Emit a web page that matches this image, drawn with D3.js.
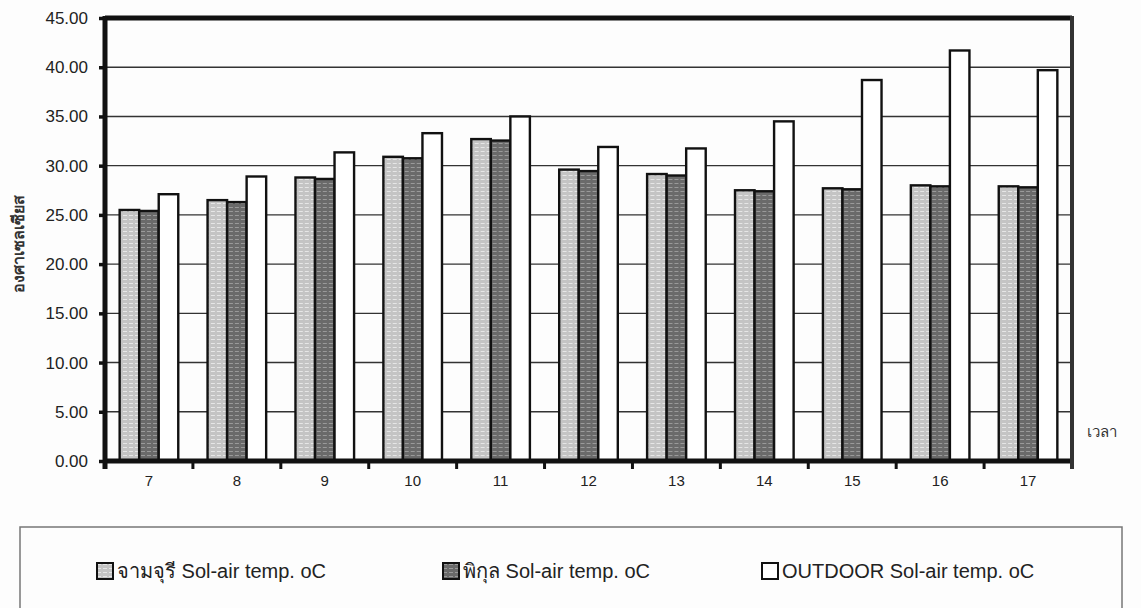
<!DOCTYPE html>
<html>
<head>
<meta charset="utf-8">
<title>Sol-air temp</title>
<script src="https://cdn.jsdelivr.net/npm/d3@7"></script>
<style>
  body { margin: 0; background: #fdfdfd; }
  svg { font-family: "Liberation Sans", Arial, sans-serif; }
</style>
</head>
<body>
<div id="chart"></div>
<script>
// data
const hours = ["7", "8", "9", "10", "11", "12", "13", "14", "15", "16", "17"];
const chamchuri = [25.5, 26.5, 28.8, 30.9, 32.7, 29.6, 29.15, 27.5, 27.7, 28.0, 27.9];
const pikul = [25.4, 26.3, 28.65, 30.75, 32.55, 29.45, 29.0, 27.4, 27.6, 27.9, 27.8];
const outdoor = [27.1, 28.9, 31.35, 33.3, 35.0, 31.9, 31.75, 34.5, 38.7, 41.7, 39.7];
const seriesNames = ["จามจุรี Sol-air temp. oC", "พิกุล Sol-air temp. oC", "OUTDOOR Sol-air temp. oC"];
const yTicks = [0, 5, 10, 15, 20, 25, 30, 35, 40, 45];

const W = 1141, H = 608;
const margin = { top: 18, left: 105, right: 69, bottom: 147 };
const width = W - margin.left - margin.right;
const height = H - margin.top - margin.bottom;

const svg = d3.select("#chart").append("svg")
  .attr("width", W)
  .attr("height", H);

// fill textures for the two shaded series
const defs = svg.append("defs");
function stripes(id, base, line) {
  const p = defs.append("pattern")
    .attr("id", id)
    .attr("patternUnits", "userSpaceOnUse")
    .attr("width", 6).attr("height", 4);
  p.append("rect").attr("width", 6).attr("height", 4).attr("fill", base);
  p.append("rect").attr("x", 0).attr("y", 1).attr("width", 4).attr("height", 1).attr("fill", line);
}
stripes("pat1", "#c4c4c4", "#e6e6e6");
stripes("pat2", "#6a6a6a", "#9a9a9a");
const fills = ["url(#pat1)", "url(#pat2)", "#ffffff"];

const g = svg.append("g").attr("transform", `translate(${margin.left},${margin.top})`);

const x = d3.scaleBand().domain(hours).range([0, width]).padding(0);
const x1 = d3.scaleBand().domain([0, 1, 2]).range([0, x.bandwidth()]).paddingInner(0).paddingOuter(0.75);
const y = d3.scaleLinear().domain([0, 45]).range([height, 0]);

// grid lines
g.append("g")
  .selectAll("line")
  .data(yTicks.slice(1, -1))
  .join("line")
  .attr("x1", 0).attr("x2", width)
  .attr("y1", d => y(d)).attr("y2", d => y(d))
  .attr("stroke", "#333").attr("stroke-width", 1.4);

// bars
const rows = hours.map((h, i) => ({ hour: h, vals: [chamchuri[i], pikul[i], outdoor[i]] }));
g.append("g")
  .selectAll("g")
  .data(rows)
  .join("g")
  .attr("transform", d => `translate(${x(d.hour)},0)`)
  .selectAll("rect")
  .data(d => d.vals.map((v, k) => ({ k, v })))
  .join("rect")
  .attr("x", d => x1(d.k))
  .attr("y", d => y(d.v))
  .attr("width", x1.bandwidth())
  .attr("height", d => y(0) - y(d.v))
  .attr("fill", d => fills[d.k])
  .attr("stroke", "#111")
  .attr("stroke-width", 2.4);

// y axis
const yAxis = g.append("g")
  .call(d3.axisLeft(y).tickValues(yTicks).tickFormat(d3.format(".2f")).tickSize(6).tickPadding(11));
yAxis.select(".domain").remove();
yAxis.selectAll(".tick line").attr("stroke", "#111").attr("stroke-width", 3.5);
yAxis.selectAll(".tick text").attr("font-size", 17).attr("fill", "#222");

// x axis
const xAxis = g.append("g")
  .attr("transform", `translate(0,${height})`)
  .call(d3.axisBottom(x).tickSize(0).tickPadding(14));
xAxis.select(".domain").remove();
xAxis.selectAll(".tick text").attr("font-size", 15).attr("fill", "#222");
g.append("g")
  .selectAll("line")
  .data(hours.slice(1))
  .join("line")
  .attr("x1", d => x(d)).attr("x2", d => x(d))
  .attr("y1", height).attr("y2", height + 8)
  .attr("stroke", "#111").attr("stroke-width", 3);

// frame
g.append("line").attr("x1", 0).attr("x2", width).attr("y1", 0).attr("y2", 0)
  .attr("stroke", "#111").attr("stroke-width", 5);
g.append("line").attr("x1", 0).attr("x2", width).attr("y1", height).attr("y2", height)
  .attr("stroke", "#111").attr("stroke-width", 5);
g.append("line").attr("x1", 0).attr("x2", 0).attr("y1", -2).attr("y2", height + 8)
  .attr("stroke", "#111").attr("stroke-width", 5);
g.append("line").attr("x1", width).attr("x2", width).attr("y1", -2).attr("y2", height + 8)
  .attr("stroke", "#333").attr("stroke-width", 4);

// axis titles
svg.append("text")
  .attr("transform", `translate(24,${margin.top + y(22)}) rotate(-90)`)
  .attr("text-anchor", "middle")
  .attr("font-size", 16)
  .attr("font-weight", "bold")
  .attr("fill", "#333")
  .text("องศาเซลเซียส");
svg.append("text")
  .attr("x", 1087).attr("y", 437)
  .attr("font-size", 15)
  .attr("fill", "#333")
  .text("เวลา");

// legend
svg.append("rect")
  .attr("x", 20).attr("y", 527).attr("width", 1102).attr("height", 90)
  .attr("fill", "none").attr("stroke", "#777").attr("stroke-width", 1.5);
const legX = [97, 443, 762];
const leg = svg.append("g")
  .selectAll("g")
  .data(seriesNames)
  .join("g")
  .attr("transform", (d, i) => `translate(${legX[i]},563)`);
leg.append("rect")
  .attr("width", 16).attr("height", 16)
  .attr("fill", (d, i) => fills[i])
  .attr("stroke", "#111").attr("stroke-width", 2);
leg.append("text")
  .attr("x", 20).attr("y", 15)
  .attr("font-size", 20)
  .attr("fill", "#222")
  .text(d => d);
</script>
</body>
</html>
